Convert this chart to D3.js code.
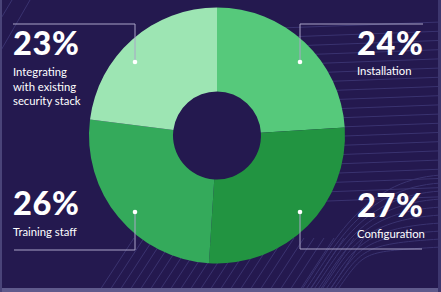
<!DOCTYPE html>
<html><head><meta charset="utf-8">
<script src="https://cdn.jsdelivr.net/npm/d3@7"></script>
<style>html,body{margin:0;padding:0;background:#24194f;overflow:hidden}svg{display:block}</style>
</head><body>
<svg id="c" width="441" height="292"></svg>
<script>
const categories = ["Installation", "Configuration", "Training staff", "Integrating with existing security stack"];
const values = [24, 27, 26, 23];
const valueLabels = ["24%", "27%", "26%", "23%"];
const labelLines = [["Installation"], ["Configuration"], ["Training staff"], ["Integrating", "with existing", "security stack"]];
const colors = ["#56c97b", "#229441", "#34aa5b", "#9de5b3"];

const svg = d3.select("#c");
const W = 441, H = 292;
svg.append("rect").attr("width", W).attr("height", H).attr("fill", "#24194f");

// decorative background lines
const deco = svg.append("g").attr("stroke", "#3a3370").attr("stroke-width", 1).attr("fill", "none");
for (let i = 0; i < 20; i++) {
  const y = 22 + i * 9.2;
  deco.append("path").attr("d", `M280,${y + 6} L441,${y}`);
}
for (let i = 0; i < 10; i++) {
  const y = 200 + i * 8;
  deco.append("path").attr("d", `M${300 + i * 4},${292} C${330 + i * 4},${250} ${360},${y - 20} ${441},${y - 25}`);
}
for (let i = 0; i < 24; i++) {
  const x = 100 + i * 10;
  deco.append("path").attr("d", `M${x},290 L${x + 34},238`);
}
deco.append("path").attr("d", "M0,52 L30,0");
deco.append("path").attr("d", "M0,20 L12,0");

// frame edges
svg.append("rect").attr("x", 0).attr("y", 288).attr("width", W).attr("height", 4).attr("fill", "#5f5a8c");
svg.append("rect").attr("x", 0).attr("y", 0).attr("width", 2).attr("height", H).attr("fill", "#4a4479");
svg.append("rect").attr("x", 438).attr("y", 0).attr("width", 3).attr("height", H).attr("fill", "#3d366e");

// donut
const cx = 217, cy = 135.5;
const pie = d3.pie().sort(null).value(d => d)(values);
const arc = d3.arc().innerRadius(44).outerRadius(128);
const g = svg.append("g").attr("transform", `translate(${cx},${cy})`);
g.selectAll("path").data(pie).join("path").attr("d", arc).attr("fill", (d, i) => colors[i]);

// annotations (layout positions)
const ann = [
  {dot: [300, 62], path: "M300,62 V24 H423", tx: 357, pctY: 55, lblY: 75},
  {dot: [300, 212], path: "M300,212 V249 H422", tx: 357, pctY: 217, lblY: 238},
  {dot: [135, 212], path: "M135,212 V250 H14", tx: 13, pctY: 215, lblY: 236},
  {dot: [135, 62], path: "M135,62 V24 H13", tx: 13, pctY: 55, lblY: 76}
];
ann.forEach((a, i) => {
  svg.append("path").attr("d", a.path).attr("fill", "none").attr("stroke", "#a9a4c8").attr("stroke-width", 1);
  svg.append("circle").attr("cx", a.dot[0]).attr("cy", a.dot[1]).attr("r", 2.3).attr("fill", "#ffffff");
  svg.append("text").attr("x", a.tx).attr("y", a.pctY).attr("fill", "#ffffff")
    .attr("font-family", "Lato").attr("font-weight", 900).attr("font-size", 32.5)
    .attr("letter-spacing", 0.6)
    .text(valueLabels[i]);
  const t = svg.append("text").attr("fill", "#ffffff").attr("font-family", "Lato").attr("font-size", 11.3);
  labelLines[i].forEach((ln, j) => {
    t.append("tspan").attr("x", a.tx).attr("y", a.lblY + j * 14.5).text(ln);
  });
});
</script>
</body></html>
